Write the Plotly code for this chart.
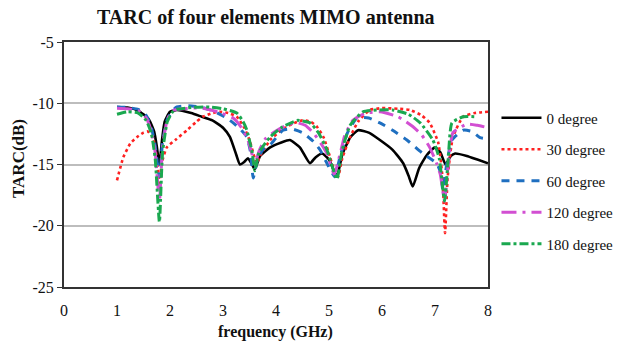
import plotly.graph_objects as go

# ---- data ----
x_0deg = [1.0,1.2,1.4,1.6,1.7,1.75,1.8,1.85,1.9,2.0,2.13,2.4,2.6,2.8,3.0,3.13,3.25,3.32,3.4,3.47,3.55,3.6,3.7,3.89,4.1,4.26,4.45,4.64,4.75,4.87,5.0,5.1,5.15,5.25,5.4,5.55,5.75,5.96,6.2,6.4,6.5,6.58,6.7,6.85,7.0,7.1,7.2,7.3,7.38,7.6,7.8,8.0]
y_0deg = [-10.3,-10.35,-10.6,-11.3,-12.3,-13.5,-15.0,-13.0,-11.5,-10.7,-10.55,-10.8,-11.1,-11.4,-12.0,-12.75,-14.2,-15.0,-14.8,-14.5,-15.0,-15.4,-14.3,-13.6,-13.2,-13.0,-13.6,-14.9,-14.4,-14.1,-14.6,-15.6,-16.0,-14.2,-12.8,-12.2,-12.4,-13.0,-13.8,-14.9,-15.9,-16.8,-15.3,-14.2,-13.6,-14.0,-15.0,-14.3,-14.1,-14.3,-14.6,-14.9]

x_30deg = [1.0,1.12,1.25,1.38,1.5,1.58,1.68,1.75,1.8,1.85,1.94,2.1,2.32,2.5,2.62,2.8,2.94,3.1,3.26,3.4,3.5,3.6,3.64,3.7,3.89,4.1,4.3,4.5,4.65,4.77,4.9,5.02,5.1,5.17,5.25,5.4,5.55,5.77,6.0,6.3,6.53,6.75,6.9,7.06,7.14,7.19,7.24,7.34,7.53,7.75,8.0]
y_30deg = [-16.3,-14.4,-13.3,-12.75,-12.4,-12.3,-12.8,-14.5,-16.5,-14.8,-13.6,-13.0,-12.2,-11.5,-11.1,-10.8,-10.7,-10.8,-11.1,-12.0,-13.0,-14.5,-14.9,-14.3,-13.0,-12.2,-11.7,-11.4,-11.5,-11.9,-12.8,-14.4,-15.5,-16.0,-14.5,-12.75,-11.5,-10.55,-10.4,-10.45,-10.55,-11.0,-11.6,-13.2,-16.0,-20.6,-16.0,-12.75,-11.1,-10.8,-10.7]

x_60deg = [1.0,1.2,1.4,1.55,1.65,1.72,1.8,1.86,1.95,2.05,2.13,2.35,2.57,2.8,3.07,3.3,3.45,3.52,3.57,3.65,3.75,3.89,4.13,4.3,4.5,4.7,4.83,4.95,5.11,5.2,5.35,5.53,5.75,5.96,6.2,6.47,6.77,7.03,7.1,7.15,7.22,7.32,7.53,7.7,7.85,8.0]
y_60deg = [-10.3,-10.35,-10.5,-11.0,-12.0,-13.5,-16.0,-13.2,-11.3,-10.6,-10.3,-10.2,-10.3,-10.6,-11.2,-12.0,-12.75,-14.0,-16.1,-14.6,-13.8,-13.4,-12.2,-12.1,-12.4,-13.1,-13.8,-14.8,-16.0,-14.5,-12.4,-11.2,-11.2,-11.6,-12.2,-13.0,-14.1,-14.9,-15.6,-17.1,-15.0,-13.0,-12.2,-12.3,-12.8,-12.9]

x_120deg = [1.0,1.2,1.4,1.55,1.65,1.72,1.8,1.86,1.95,2.05,2.13,2.4,2.62,2.9,3.19,3.35,3.47,3.55,3.6,3.68,3.8,4.02,4.2,4.4,4.55,4.7,4.85,4.96,5.1,5.2,5.3,5.45,5.7,5.96,6.3,6.58,6.75,6.9,7.03,7.1,7.18,7.25,7.34,7.6,7.8,8.0]
y_120deg = [-10.4,-10.45,-10.6,-11.2,-12.3,-14.0,-18.0,-13.5,-11.3,-10.6,-10.5,-10.4,-10.4,-10.7,-11.2,-12.0,-13.0,-14.2,-15.0,-13.9,-12.9,-12.2,-11.8,-11.6,-11.8,-12.4,-13.3,-14.1,-15.8,-14.3,-12.6,-11.4,-10.8,-10.7,-11.1,-11.9,-12.6,-13.6,-14.9,-15.8,-18.0,-15.0,-12.4,-11.7,-11.8,-12.0]

x_180deg = [1.0,1.2,1.4,1.55,1.65,1.72,1.8,1.86,1.95,2.05,2.13,2.4,2.75,3.0,3.26,3.38,3.45,3.55,3.6,3.68,3.89,4.1,4.4,4.64,4.8,4.96,5.05,5.15,5.25,5.4,5.64,5.9,6.2,6.5,6.72,6.96,7.08,7.18,7.25,7.32,7.53,7.78]
y_180deg = [-10.9,-10.7,-10.8,-11.4,-12.5,-14.5,-19.7,-14.0,-11.5,-10.7,-10.5,-10.35,-10.3,-10.45,-10.8,-11.5,-12.2,-14.0,-15.5,-14.0,-12.75,-12.0,-11.4,-11.6,-12.4,-13.8,-15.0,-16.2,-13.8,-11.8,-10.7,-10.55,-10.55,-10.9,-11.6,-13.0,-14.5,-18.0,-14.5,-11.6,-11.1,-11.1]

names = ["0 degree", "30 degree", "60 degree", "120 degree", "180 degree"]
xs = [x_0deg, x_30deg, x_60deg, x_120deg, x_180deg]
ys = [y_0deg, y_30deg, y_60deg, y_120deg, y_180deg]
colors = ["#000000", "#ff2020", "#1f6fc0", "#d24fd2", "#1aa84f"]
dashes = ["solid", "dot", "8px,7px", "longdashdot", "dashdot"]
widths = [2.6, 2.6, 3, 3, 3]

x_ticks = [0, 1, 2, 3, 4, 5, 6, 7, 8]
y_ticks = [-5, -10, -15, -20, -25]

FONT = "serif"

fig = go.Figure()
for i in range(5):
    fig.add_trace(go.Scatter(
        x=xs[i], y=ys[i], mode="lines", name=names[i],
        legendgroup=names[i],
        line=dict(color=colors[i], dash=dashes[i], width=widths[i], shape="spline", smoothing=0.5),
    ))

fig.update_layout(
    width=619, height=348,
    margin=dict(l=64, r=131, t=42, b=61, autoexpand=False),
    paper_bgcolor="white", plot_bgcolor="white",
    font=dict(family=FONT, size=14, color="#111111"),
    showlegend=True,
    legend=dict(x=1.02, y=0.757, xanchor="left", yanchor="top",
                font=dict(family=FONT, size=15, color="#111111"),
                tracegroupgap=9, traceorder="grouped", itemwidth=40,
                bgcolor="rgba(0,0,0,0)"),
    xaxis=dict(range=[0, 8], tickvals=x_ticks, ticktext=[str(v) for v in x_ticks],
               showgrid=False, zeroline=False, showline=True, mirror=True,
               linecolor="#333333", linewidth=2, ticks="", ticklabelstandoff=8,
               tickfont=dict(family=FONT, size=16)),
    yaxis=dict(range=[-25, -5], tickvals=y_ticks, ticktext=[str(v) for v in y_ticks],
               showgrid=True, gridcolor="#bdbdbd", gridwidth=1.5, zeroline=False,
               showline=True, mirror=True, linecolor="#333333", linewidth=2,
               ticks="outside", ticklen=5, tickcolor="#333333",
               tickfont=dict(family=FONT, size=16)),
    annotations=[
        dict(text="<b>TARC of four elements MIMO antenna</b>", xref="paper", yref="paper",
             x=(266 - 64) / 424, y=1.0, yshift=25, xanchor="center", yanchor="middle",
             showarrow=False, font=dict(family=FONT, size=20, color="#111111")),
        dict(text="<b>frequency (GHz)</b>", xref="paper", yref="paper",
             x=(275 - 64) / 424, y=0, yshift=-45, xanchor="center", yanchor="middle",
             showarrow=False, font=dict(family=FONT, size=16, color="#111111")),
        dict(text="<b>TARC(dB)</b>", xref="paper", yref="paper",
             x=0, xshift=-46, y=(287 - 159) / 245, xanchor="center", yanchor="middle",
             textangle=-90, showarrow=False, font=dict(family=FONT, size=17, color="#111111")),
    ],
)

fig.write_html("out.html")
